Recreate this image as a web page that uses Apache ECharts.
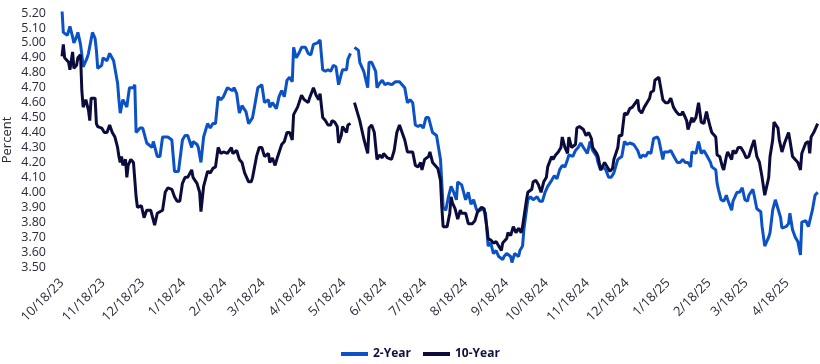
<!DOCTYPE html>
<html>
<head>
<meta charset="utf-8">
<script src="https://cdn.jsdelivr.net/npm/echarts@6/dist/echarts.min.js"></script>
<style>
  html, body { margin: 0; padding: 0; background: #fff; }
  #main { width: 820px; height: 364px; }
</style>
</head>
<body>
<div id="main"></div>
<script>
// days counted from 10/18/23
var startDate = new Date(2023, 9, 18);

var twoYearDay = [0,1,4,6,8,9,11,12,14,15,16,19,20,23,25,26,27,30,31,34,36,39,42,43,44,46,49,50,51,54,55,56,59,61,64,68,69,72,74,76,80,83,85,88,91,93,95,98,99,102,103,105,107,110,112,114,116,118,120,122,125,129,130,132,134,136,139,141,144,146,148,151,153,156,157,159,162,164,166,168,170,172,174,175,177,179,181,184,186,188,190,193,195,197,199,201,203,205,207,209,211,212,215,216,218,219,221,224,225,228,231,232,234,237,238,240,242,244,246,249,252,255,257,259,261,263,265,267,269,271,273,275,277,280,281,283,284,286,288,290,292,294,296,298,299,302,303,305,307,309,311,313,314,318,320,322,324,326,328,330,333,334,336,339,340,342,345,346,348,349,352,354,356,359,361,363,365,367,370,372,374,376,378,380,382,383,386,388,390,392,394,397,399,401,404,405,407,409,411,413,415,417,420,423,425,427,429,432,435,437,439,441,443,445,447,450,451,454,455,458,460,463,465,467,469,471,473,475,476,479,481,483,485,487,488,490,491,494,495,496,498,500,502,503,506,507,510,512,514,516,518,519,522,523,525,528,529,531,534,535,537,539,541,543,544,547,549,550,552,554,556,558,559,562,564,565,567,569,571];
var twoYear = [5.22,5.07,5.05,5.11,5.04,5.00,5.04,5.07,4.99,4.92,4.84,4.90,4.93,5.07,5.03,4.95,4.83,4.85,4.90,4.88,4.93,4.88,4.73,4.62,4.53,4.62,4.57,4.64,4.70,4.70,4.72,4.40,4.43,4.43,4.33,4.30,4.34,4.24,4.24,4.37,4.37,4.35,4.14,4.14,4.35,4.38,4.38,4.30,4.34,4.32,4.30,4.20,4.37,4.46,4.43,4.46,4.46,4.64,4.62,4.64,4.70,4.68,4.70,4.66,4.53,4.58,4.54,4.46,4.50,4.60,4.70,4.72,4.60,4.62,4.57,4.60,4.56,4.64,4.68,4.64,4.75,4.77,4.74,4.97,4.90,4.93,4.97,4.97,4.93,4.92,4.99,5.00,5.02,4.82,4.81,4.82,4.81,4.85,4.84,4.72,4.79,4.82,4.82,4.89,4.93,null,4.97,4.95,4.87,4.81,4.70,4.87,4.87,4.81,4.70,4.73,4.75,4.72,4.73,4.72,4.74,4.74,4.72,4.70,4.60,4.62,4.60,4.45,4.44,4.45,4.43,4.50,4.50,4.40,4.40,4.38,4.37,4.22,3.90,3.88,3.97,4.04,4.00,3.95,4.07,4.05,4.04,3.95,4.00,3.92,3.95,3.89,3.87,3.89,3.86,3.64,3.66,3.59,3.61,3.57,3.55,3.57,3.59,3.57,3.53,3.59,3.57,3.61,3.64,3.75,3.95,3.97,3.95,3.97,3.94,3.94,4.00,4.04,4.08,4.11,4.09,4.15,4.18,4.17,4.22,4.25,4.24,4.28,4.30,4.33,4.30,4.26,4.34,4.28,4.24,4.20,4.15,4.17,4.15,4.10,4.10,4.13,4.22,4.24,4.34,4.32,4.33,4.32,4.28,4.23,4.25,4.24,4.27,4.26,4.36,4.37,4.35,4.22,4.27,4.27,4.28,4.23,4.20,4.20,4.22,4.20,4.20,4.17,4.27,4.26,4.34,4.26,4.28,4.25,4.24,4.20,4.17,4.15,4.06,4.02,3.95,3.94,3.98,3.95,3.88,3.94,4.00,4.00,4.03,3.95,3.94,3.98,4.02,3.98,3.89,3.87,3.77,3.64,3.70,3.73,3.88,3.95,3.89,3.83,3.76,3.77,3.79,3.86,3.75,3.70,3.67,3.58,3.80,3.81,3.77,3.76,3.88,3.98,4.00];

var tenYearDay = [0,1,2,5,6,8,9,11,12,14,15,16,18,20,21,22,23,25,26,27,30,32,34,36,38,40,42,43,44,45,46,48,49,50,52,54,56,57,60,62,64,67,68,70,72,74,76,78,80,83,85,87,89,91,93,95,98,99,102,104,105,107,110,112,114,116,118,120,122,125,128,129,132,134,136,138,141,143,144,147,149,151,153,156,157,159,161,163,166,168,170,172,174,175,178,179,181,183,186,187,190,192,194,195,197,199,201,203,204,206,208,209,211,212,215,216,218,219,221,223,225,228,231,232,234,236,238,240,242,243,246,247,249,251,253,255,257,259,261,263,265,267,269,271,272,274,277,278,280,282,284,286,287,288,291,293,294,295,297,299,301,302,305,307,308,310,312,314,317,319,321,322,324,326,328,330,332,333,336,337,339,341,343,345,347,348,351,352,355,356,358,360,362,364,366,367,370,371,373,375,377,378,380,382,383,385,386,388,389,391,392,394,396,398,400,401,404,405,407,408,410,412,414,416,417,420,421,423,425,427,429,431,432,435,436,438,440,442,444,445,447,448,451,452,454,456,458,460,462,464,466,468,469,472,473,476,477,479,481,483,485,487,488,490,491,494,495,497,499,500,502,503,506,507,509,511,513,515,517,519,521,523,525,527,529,531,534,535,537,538,541,542,544,546,549,550,552,554,556,558,559,562,564,565,566,568,571];
var tenYear = [4.91,4.99,4.90,4.87,4.82,4.94,4.83,4.85,4.90,4.92,4.68,4.57,4.62,4.55,4.48,4.63,4.64,4.63,4.46,4.44,4.43,4.40,4.40,4.45,4.40,4.37,4.30,4.24,4.20,4.24,4.18,4.22,4.10,4.18,4.22,4.20,3.97,3.90,3.91,3.83,3.88,3.88,3.88,3.78,3.86,3.87,3.88,4.00,4.03,4.02,3.97,3.94,3.94,4.06,4.10,4.10,4.15,4.10,4.06,4.00,3.87,4.04,4.14,4.13,4.16,4.17,4.30,4.26,4.27,4.26,4.30,4.26,4.28,4.22,4.20,4.13,4.07,4.07,4.10,4.24,4.30,4.30,4.24,4.26,4.20,4.23,4.18,4.24,4.32,4.34,4.40,4.40,4.35,4.52,4.57,4.56,4.65,4.62,4.60,4.63,4.70,4.65,4.62,4.66,4.50,4.48,4.45,4.45,4.48,4.47,4.44,4.33,4.38,4.44,4.40,4.45,4.46,null,4.60,4.54,4.48,4.36,4.26,4.43,4.45,4.40,4.22,4.25,4.23,4.26,4.23,4.24,4.22,4.28,4.40,4.45,4.40,4.35,4.27,4.27,4.27,4.18,4.17,4.20,4.15,4.22,4.24,4.27,4.20,4.18,4.16,4.08,3.90,3.77,3.77,3.86,3.97,3.93,3.89,3.82,3.88,3.86,3.86,3.79,3.80,3.79,3.81,3.87,3.90,3.89,3.77,3.69,3.68,3.66,3.67,3.64,3.61,3.66,3.69,3.73,3.71,3.77,3.73,3.76,3.73,3.77,3.95,4.00,4.02,4.07,4.08,4.05,4.00,4.07,4.10,4.17,4.24,4.22,4.25,4.27,4.30,4.37,4.30,4.26,4.37,4.30,4.30,4.32,4.43,4.44,4.43,4.42,4.38,4.40,4.36,4.30,4.26,4.24,4.15,4.16,4.20,4.17,4.14,4.16,4.22,4.30,4.38,4.38,4.53,4.52,4.56,4.57,4.57,4.62,4.55,4.53,4.57,4.60,4.63,4.67,4.68,4.75,4.77,4.78,4.62,4.60,4.60,4.63,4.57,4.54,4.52,4.52,4.54,4.48,4.42,4.50,4.47,4.50,4.60,4.47,4.46,4.54,4.50,4.43,4.40,4.37,4.25,4.24,4.17,4.15,4.24,4.27,4.22,4.28,4.26,4.30,4.30,4.27,4.23,4.24,4.30,4.35,4.24,4.20,4.10,3.98,4.10,4.24,4.35,4.47,4.43,4.35,4.27,4.33,4.40,4.35,4.24,4.22,4.20,4.15,4.26,4.33,4.34,4.26,4.37,4.40,4.46];

var tickLabels = ['10/18/23','11/18/23','12/18/23','1/18/24','2/18/24','3/18/24','4/18/24','5/18/24','6/18/24','7/18/24','8/18/24','9/18/24','10/18/24','11/18/24','12/18/24','1/18/25','2/18/25','3/18/25','4/18/25'];

function labelToDay(s) {
    var p = s.split('/');
    var d = new Date(2000 + parseInt(p[2]), parseInt(p[0]) - 1, parseInt(p[1]));
    return Math.round((d - startDate) / 86400000);
}
var tickDays = tickLabels.map(labelToDay);

function pairs(days, vals) {
    return days.map(function (d, i) { return [d, vals[i]]; });
}

var textColor = '#2a2a3c';
var myChart = echarts.init(document.getElementById('main'));

var option = {
    animation: false,
    textStyle: { fontFamily: 'Open Sans' },
    grid: { left: 62, right: 1, top: 13, bottom: 97, outerBoundsMode: 'none', containLabel: false },
    legend: {
        data: ['2-Year', '10-Year'],
        left: 336,
        top: 343,
        icon: 'rect',
        itemWidth: 27,
        itemHeight: 4,
        itemGap: 12,
        textStyle: { fontSize: 12, fontWeight: 'bold', color: '#101040', fontFamily: 'Open Sans' }
    },
    xAxis: {
        type: 'value',
        min: 0,
        max: 572,
        splitLine: { show: false },
        axisLine: { show: false },
        axisTick: { show: false },
        axisLabel: {
            customValues: tickDays,
            rotate: 45,
            margin: 14,
            fontSize: 13,
            color: textColor,
            formatter: function (v) {
                var i = tickDays.indexOf(v);
                return i >= 0 ? tickLabels[i] : '';
            }
        }
    },
    yAxis: {
        type: 'value',
        min: 3.5,
        max: 5.2,
        interval: 0.1,
        name: 'Percent',
        nameLocation: 'middle',
        nameGap: 48,
        nameMoveOverlap: false,
        nameTextStyle: { fontSize: 13, color: textColor },
        splitLine: { show: false },
        axisLine: { show: false },
        axisTick: { show: false },
        axisLabel: {
            margin: 16,
            fontSize: 12.5,
            color: textColor,
            formatter: function (v) { return v.toFixed(2); }
        }
    },
    series: [
        {
            name: '2-Year',
            type: 'line',
            data: pairs(twoYearDay, twoYear),
            showSymbol: false,
            connectNulls: false,
            color: '#0a52c6',
            lineStyle: { width: 3, color: '#0a52c6' }
        },
        {
            name: '10-Year',
            type: 'line',
            data: pairs(tenYearDay, tenYear),
            showSymbol: false,
            connectNulls: false,
            color: '#0b0c3c',
            lineStyle: { width: 3, color: '#0b0c3c' }
        }
    ]
};
myChart.setOption(option);
</script>
</body>
</html>
